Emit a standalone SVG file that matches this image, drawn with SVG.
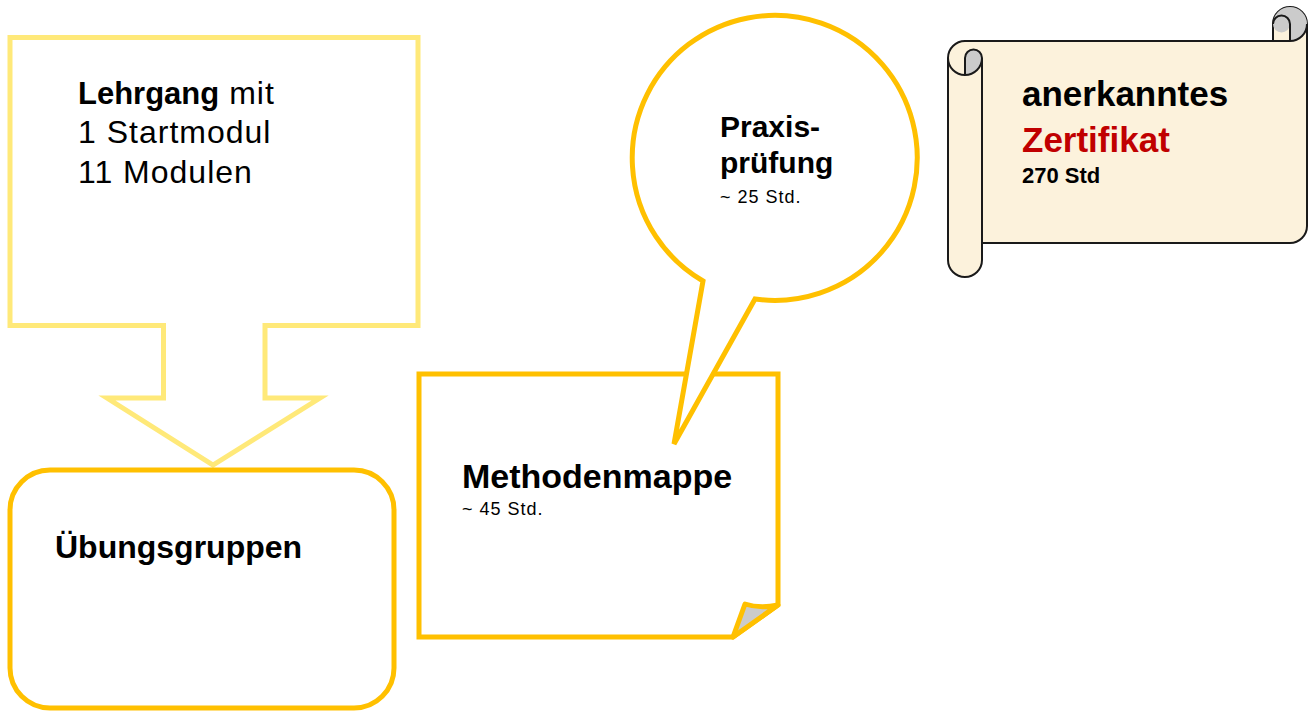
<svg xmlns="http://www.w3.org/2000/svg" width="1309" height="711" viewBox="0 0 1309 711">
  <style>
    text { font-family: "Liberation Sans", Arial, sans-serif; fill: #000; }
    .b { font-weight: bold; }
    .reg { font-weight: normal; }
    .gold { fill: #fff; stroke: #FFC000; stroke-width: 5; stroke-linejoin: miter; }
    .light { fill: #fff; stroke: #FFE979; stroke-width: 5; stroke-linejoin: miter; }
    .scroll { fill: #FCF2DC; stroke: #1a1a1a; stroke-width: 2; }
    .shade { fill: #CBCBCB; stroke: none; }
    .line { fill: none; stroke: #1a1a1a; stroke-width: 2; }
  </style>
  <rect width="1309" height="711" fill="#fff"/>

  <g id="lehrgang">
    <path class="light" d="M10 37.5 H418 V325.5 H265 V398 H320 L213 465 L107 398 H163.5 V325.5 H10 Z"/>
    <text x="78" y="104" font-size="31"><tspan class="b">Lehrgang</tspan><tspan class="reg" font-size="32" letter-spacing="1"> mit</tspan></text>
    <text x="78" y="143" font-size="32" letter-spacing="1">1 Startmodul</text>
    <text x="78" y="183" font-size="32" letter-spacing="1">11 Modulen</text>
  </g>

  <g id="uebungsgruppen">
    <rect class="gold" x="10" y="470" width="384" height="238" rx="40" ry="40"/>
    <text class="b" x="55" y="558" font-size="32">Übungsgruppen</text>
  </g>

  <g id="methodenmappe">
    <path class="gold" d="M419 374 H778 V605 L733 637 H419 Z"/>
    <path d="M733 637 L745 604 Q760 609 778 605 Z" fill="#CBCBCB" stroke="#FFC000" stroke-width="5" stroke-linejoin="round"/>
    <text class="b" x="462" y="488" font-size="34">Methodenmappe</text>
    <text x="462" y="515" font-size="18" letter-spacing="1">~ 45 Std.</text>
  </g>

  <g id="praxispruefung">
    <path class="gold" d="M703 281 L674 444 L755 299 A142.5 142.5 0 1 0 703 281 Z"/>
    <text class="b" x="720" y="137" font-size="30">Praxis-</text>
    <text class="b" x="720" y="173" font-size="30">prüfung</text>
    <text x="720" y="203" font-size="18" letter-spacing="1">~ 25 Std.</text>
  </g>

  <g id="zertifikat">
    <path class="scroll" d="M948 58 A17 17 0 0 1 965 41 H1273 V24 A17 17 0 0 1 1307 24 V226 A17 17 0 0 1 1290 243 H982 V260 A17 17 0 0 1 948 260 Z"/>
    <path class="shade" d="M965 75 A17 17 0 0 0 982 58 A8.5 8.5 0 0 0 965 58 Z"/>
    <path class="shade" d="M1290 41 A17 17 0 1 0 1273 24 A8.5 8.5 0 0 0 1290 24 Z"/>
    <path class="line" d="M1273 41 H1290 A17 17 0 0 0 1307 24 M1290 41 V24 A8.5 8.5 0 0 0 1273 24 M965 75 V58 A8.5 8.5 0 0 1 982 58 A17 17 0 0 1 948 58 M982 58 V243"/>
    <text class="b" x="1022" y="106" font-size="35">anerkanntes</text>
    <text class="b" x="1022" y="152" font-size="35" style="fill:#C00000">Zertifikat</text>
    <text class="b" x="1022" y="183" font-size="22">270 Std</text>
  </g>

  <g id="connectors"/>
</svg>
